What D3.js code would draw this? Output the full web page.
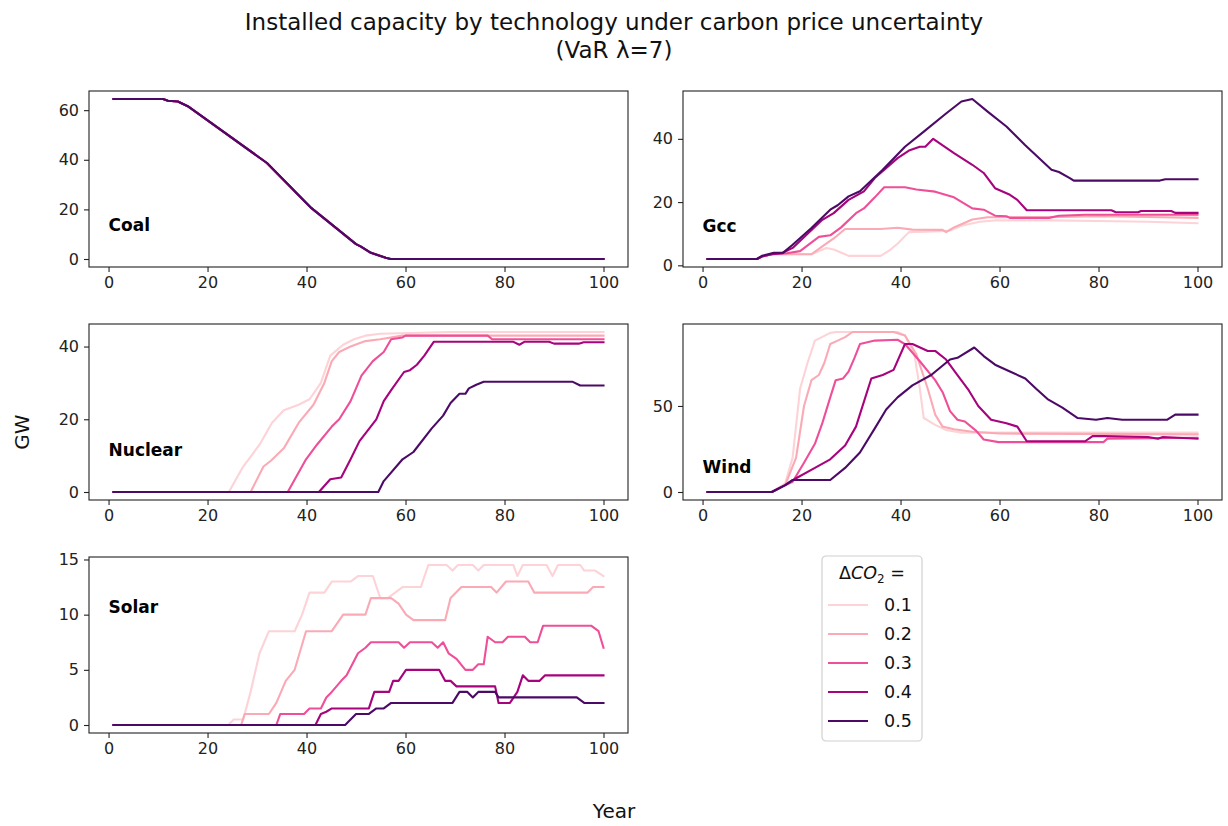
<!DOCTYPE html>
<html>
<head>
<meta charset="utf-8">
<script src="https://cdn.jsdelivr.net/npm/d3@7"></script>
<style>
  body { margin: 0; background: #fff; }
  svg { font-family: "DejaVu Sans", sans-serif; }
</style>
</head>
<body>
<svg id="chart" width="1228" height="826"></svg>
<script>
// scenarios (delta CO2) and their colours
const scenarios = ["0.1", "0.2", "0.3", "0.4", "0.5"];
const colors = ["#fdd3d7", "#fbaab5", "#ef4f98", "#a6037c", "#4c0a67"];

const technologies = ["Coal", "Gcc", "Nuclear", "Wind", "Solar"];
const xTicks = [0, 20, 40, 60, 80, 100];
const yTicks = [[0, 20, 40, 60], [0, 20, 40], [0, 20, 40], [0, 50], [0, 5, 10, 15]];
// where the technology name sits, in data units
const labelAt = [[0, 13.5], [0, 12.5], [0, 11.5], [0, 14.5], [0, 10.7]];

// [year, GW]; all five coal runs coincide
const coalRun = [[1,64.5],[11,64.5],[12,63.8],[14,63.5],[16,61.6],[32,38.7],[41,20.5],[50,6],[51,5],[53,2.5],[56,0.5],[57,0],[100,0]];
const coal = [coalRun, coalRun, coalRun, coalRun, coalRun];

const gcc = [
  [[1,2],[11,2],[12,2.8],[14,3.5],[22,3.5],[25,5.5],[26.5,5],[28.8,3.5],[29.5,3],[36,3],[38,5],[39.5,7],[41.7,10.5],[48,10.8],[50,11],[52.3,12.5],[56,13.8],[59,14.2],[70,14.2],[80,14],[90,13.8],[100,13.3]],
  [[1,2],[11,2],[12,2.8],[14,3.5],[22,3.5],[24.2,6],[26.5,8.5],[28.8,11.5],[36,11.5],[39.4,11.9],[42.4,11.3],[48.5,11.2],[49.2,10.5],[50.8,12],[52.3,13],[54.5,14.5],[57.6,15.2],[70,15.2],[80,15.5],[90,15.3],[100,15]],
  [[1,2],[11,2],[12,2.8],[14,3.5],[17,3.8],[19.7,4.5],[23.5,9],[25.8,9.5],[28,12],[31,16.5],[32.6,18],[34.8,21.5],[36.7,24.7],[40.9,24.7],[43.2,24],[47,23.3],[50.8,21.5],[54.5,18],[56.8,17.6],[59.1,15.7],[61.4,15.5],[62.1,15],[70,15],[72,15.7],[77.3,16],[100,16]],
  [[1,2],[11,2],[12,2.8],[14,3.5],[16,3.8],[18.2,5.5],[24.2,14.4],[26.5,16.5],[29.5,20.7],[32.6,23.4],[34.8,27.6],[39.4,33.9],[41.7,36.3],[43.9,37.5],[45,37.5],[46.6,40],[50.8,35.5],[54.5,31.8],[56.8,29.2],[59.1,24.4],[62.1,22.3],[63.6,20.7],[65.5,17.4],[82.6,17.4],[83.5,16.8],[88,16.8],[88.6,17.2],[94.7,17.2],[95.5,16.6],[100,16.6]],
  [[1,2],[11,2],[12,3],[14.4,4],[16.3,4],[18.2,6.5],[22,11.8],[25.8,17.6],[27.3,19],[29.5,21.8],[31.8,23.4],[36.4,30.2],[40.9,37.5],[44.7,42.3],[49.2,48],[52.3,51.8],[54.5,52.6],[57.6,48.6],[61.4,43.9],[65.2,38],[70.5,30.2],[72,29.5],[74.2,27.6],[75,26.8],[92.4,26.8],[93.5,27.2],[100,27.2]]
];

const nuclear = [
  [[1,0],[24.3,0],[27.2,7],[30.5,13],[33,19],[35.4,22.5],[38.4,24],[40.6,25.5],[42.9,30],[44.8,37.5],[47.4,40.5],[49.6,42],[51.9,43],[54.9,43.5],[69,44],[100,44]],
  [[1,0],[28.7,0],[31.3,7],[32.8,8.6],[35.4,12],[38.4,19],[41.4,24],[43.6,30],[45.1,36],[46.6,38.5],[48.9,40],[51.9,41.5],[54.9,42],[59.4,43],[100,43]],
  [[1,0],[36.2,0],[39.9,9],[42.1,13],[45.1,18],[46.6,20],[48.9,25],[51.1,32],[53.4,36],[55.6,38.5],[57.1,42],[59.4,42.5],[60,43],[76.6,43],[77.5,42],[100,42]],
  [[1,0],[42.5,0],[44.8,3.5],[47,4],[48.9,9],[50.7,14],[54.1,20],[55.6,25],[57.1,28],[59.7,33],[60.9,33.5],[62.3,35],[63.8,37.5],[65.7,41.3],[81.8,41.3],[83,40.5],[84,41.3],[89,41.3],[90,40.8],[95,40.8],[96,41.2],[100,41.2]],
  [[1,0],[54.5,0],[55.6,3],[59.4,9],[61.6,11],[65.3,17.5],[67.6,21],[69.1,24.5],[70.9,27],[72.1,27],[72.8,28.5],[74.3,29.5],[75.8,30.3],[93.8,30.3],[95.3,29.3],[100,29.3]]
];

const wind = [
  [[1,0],[14,0],[16.7,5],[18.2,20],[19.7,60],[21.2,75],[22.7,88],[25.8,92.5],[27,93],[39.4,93],[40.9,91],[42.8,80],[43.9,60],[44.7,43],[47,39],[49.2,36],[52.3,34.5],[100,34.5]],
  [[1,0],[14,0],[16.7,4],[18.9,20],[20.5,50],[22,65],[23.5,68],[24.6,75],[25.8,86],[27.3,88],[28.8,90],[30.3,93],[38.6,93],[40.9,91],[43.2,80],[45.5,60],[47,45],[48.5,38],[50.8,36.5],[54.5,35],[60,34],[100,33.5]],
  [[1,0],[14,0],[16,3],[18.2,6],[20.5,17],[22.7,28],[24.2,40],[25.8,55],[26.9,65],[28.4,66],[29.5,70],[30.7,78],[31.8,86],[34.8,88],[39.4,88.5],[40.9,86],[43.9,76],[47,65],[48.5,58],[50,47],[51.5,42],[53,41],[55.3,35.5],[56.8,30.5],[59.8,29],[81,29],[81.8,31],[100,31.5]],
  [[1,0],[14,0],[16.7,4],[18.9,8],[22.7,14],[25.8,19],[28.8,27],[31,38],[34.1,66],[36.4,68],[38.6,71],[40.9,86],[42.4,86],[45.5,82],[47,82],[49.2,77],[51.5,68],[53.8,59],[55.7,50],[58.3,42],[61.4,40],[63.6,38],[65.5,29.5],[77.3,29.5],[78.8,32.5],[81.1,32.5],[90,32],[92,31],[93,32],[100,31]],
  [[1,0],[14,0],[16.7,4],[18.2,7],[25.8,7],[28.8,14],[31.8,23],[34.8,37],[37.1,48],[39.4,55],[42.4,62],[46.2,68],[50,77],[51.5,78],[54.9,84],[56.8,79],[59.1,74],[62.1,70],[65.2,66],[67.4,60],[69.7,54],[72.7,49],[75.8,43],[79.5,42],[81.8,43],[84.8,42],[93.9,42],[95.5,45],[100,45]]
];

const solar = [
  [[1,0],[24.2,0],[25.3,0.5],[27.2,0.5],[28.7,3],[30.5,6.5],[32.4,8.5],[37.6,8.5],[39.1,10],[40.6,12],[43.6,12],[45.1,13],[48.9,13],[50.4,13.5],[53.4,13.5],[54.9,11.5],[56.4,11.5],[57.9,12],[59.4,12.5],[63.1,12.5],[64.6,14.5],[68.3,14.5],[69.5,14],[70.6,14.5],[73.6,14.5],[74.7,14],[75.8,14.5],[81.8,14.5],[82.6,13.5],[83.7,14.5],[88.5,14.5],[89.7,13.5],[90.8,14.5],[95.3,14.5],[96.1,14],[98.3,14],[100,13.5]],
  [[1,0],[26.8,0],[27.5,1],[32.4,1],[33.9,2],[35.8,4],[37.6,5],[39.9,8.5],[45.1,8.5],[47.4,10],[51.9,10],[53,11.5],[57.1,11.5],[58.6,11],[60.1,10],[61.6,9.5],[68,9.5],[69.1,11.5],[71.3,12.5],[77.3,12.5],[78.4,12],[80.3,13],[84.8,13],[86,12],[96.8,12],[97.9,12.5],[100,12.5]],
  [[1,0],[33.9,0],[34.7,1],[39.5,1],[40.6,1.5],[42.9,1.5],[44,2.5],[45.1,3],[47,4],[48.1,4.5],[50.4,6.5],[51.9,7],[53,7.5],[58.6,7.5],[59.7,7],[60.9,7.5],[65.3,7.5],[66.5,7],[67.6,7.5],[68.7,6.5],[70.3,6],[72.1,5],[73.6,5],[74.7,5.5],[75.8,5.5],[76.6,8],[78.1,7.5],[79.6,7.5],[80.7,8],[84.1,8],[85.2,7.5],[86.7,7.5],[87.8,9],[97.5,9],[99,8.5],[100,7]],
  [[1,0],[41.8,0],[42.9,1],[44,1.2],[45.1,1.5],[52.6,1.5],[53.7,3],[56.7,3],[57.5,4],[58.6,4],[60.1,5],[66.8,5],[68,4],[69.1,4],[70.3,3.5],[78.1,3.5],[78.8,2],[81.1,2],[82.6,3],[83.7,4.5],[84.8,4],[87.1,4],[88.2,4.5],[100,4.5]],
  [[1,0],[47.8,0],[50,1],[52.6,1],[54.1,1.5],[55.6,1.5],[57.1,2],[69.5,2],[70.9,3],[72.5,3],[73.6,2.5],[74.7,3],[78.1,3],[78.8,2.5],[94.6,2.5],[96.1,2],[100,2]]
];

const series = [coal, gcc, nuclear, wind, solar];

// figure layout
const cols = [89, 683];
const rows = [91, 324, 557];
const panelW = 539;
const panelH = 176;

const svg = d3.select("#chart");

svg.append("text")
   .attr("x", 614).attr("y", 30)
   .attr("text-anchor", "middle")
   .attr("font-size", 23).attr("fill", "#111")
   .text("Installed capacity by technology under carbon price uncertainty");
svg.append("text")
   .attr("x", 614).attr("y", 58)
   .attr("text-anchor", "middle")
   .attr("font-size", 23).attr("fill", "#111")
   .text("(VaR \u03bb=7)");

// matplotlib-style 5% margins around the data
function padded(lo, hi) {
  const m = (hi - lo) * 0.05;
  return [lo - m, hi + m];
}

technologies.forEach(function (tech, i) {
  const left = cols[i % 2];
  const top = rows[Math.floor(i / 2)];
  const runs = series[i];

  const x = d3.scaleLinear().domain(padded(1, 100)).range([0, panelW]);
  const allY = runs.flat().map(d => d[1]);
  const y = d3.scaleLinear().domain(padded(d3.min(allY), d3.max(allY))).range([panelH, 0]);

  const g = svg.append("g").attr("transform", `translate(${left},${top})`);

  const line = d3.line().x(d => x(d[0])).y(d => y(d[1]));

  g.append("g")
   .selectAll("path")
   .data(runs)
   .enter()
   .append("path")
   .attr("d", line)
   .attr("fill", "none")
   .attr("stroke", (d, k) => colors[k])
   .attr("stroke-width", 2.1)
   .attr("stroke-linejoin", "round")
   .attr("stroke-linecap", "square");

  g.append("text")
   .attr("x", x(labelAt[i][0]))
   .attr("y", y(labelAt[i][1]))
   .attr("dy", "0.35em")
   .attr("font-size", 17)
   .attr("font-weight", "bold")
   .attr("fill", "#000")
   .text(tech);

  const xAxis = g.append("g")
   .attr("transform", `translate(0,${panelH})`)
   .call(d3.axisBottom(x).tickValues(xTicks).tickSize(5).tickPadding(5));
  const yAxis = g.append("g")
   .call(d3.axisLeft(y).tickValues(yTicks[i]).tickSize(5).tickPadding(5));

  [xAxis, yAxis].forEach(function (ax) {
    ax.select(".domain").remove();
    ax.selectAll("line").attr("stroke", "#222").attr("stroke-width", 1.1);
    ax.selectAll("text").attr("font-size", 16).attr("fill", "#222")
      .attr("font-family", "DejaVu Sans, sans-serif");
  });

  g.append("rect")
   .attr("width", panelW).attr("height", panelH)
   .attr("fill", "none").attr("stroke", "#222").attr("stroke-width", 1.1);
});

// shared axis labels
svg.append("text")
   .attr("x", 614).attr("y", 818)
   .attr("text-anchor", "middle")
   .attr("font-size", 20).attr("fill", "#111")
   .text("Year");
svg.append("text")
   .attr("transform", "translate(29,432) rotate(-90)")
   .attr("text-anchor", "middle")
   .attr("font-size", 20).attr("fill", "#111")
   .text("GW");

// legend in the empty sixth slot
const legend = svg.append("g").attr("transform", "translate(822,556)");
legend.append("rect")
   .attr("width", 100).attr("height", 185).attr("rx", 4)
   .attr("fill", "#fff").attr("stroke", "#d0d0d0").attr("stroke-width", 1.2);

const lt = legend.append("text")
   .attr("x", 50).attr("y", 23)
   .attr("text-anchor", "middle")
   .attr("font-size", 17.5).attr("fill", "#111");
lt.append("tspan").text("\u0394");
lt.append("tspan").attr("font-style", "italic").text("CO");
lt.append("tspan").attr("font-size", 12).attr("dy", 4).text("2");
lt.append("tspan").attr("dy", -4).text(" =");

const items = legend.selectAll(".item")
   .data(scenarios)
   .enter()
   .append("g")
   .attr("class", "item")
   .attr("transform", (d, k) => `translate(0,${49 + k * 29})`);
items.append("line")
   .attr("x1", 6).attr("x2", 46)
   .attr("stroke", (d, k) => colors[k])
   .attr("stroke-width", 2.1);
items.append("text")
   .attr("x", 62).attr("dy", "0.35em")
   .attr("font-size", 17.5).attr("fill", "#111")
   .text(d => d);
</script>
</body>
</html>
